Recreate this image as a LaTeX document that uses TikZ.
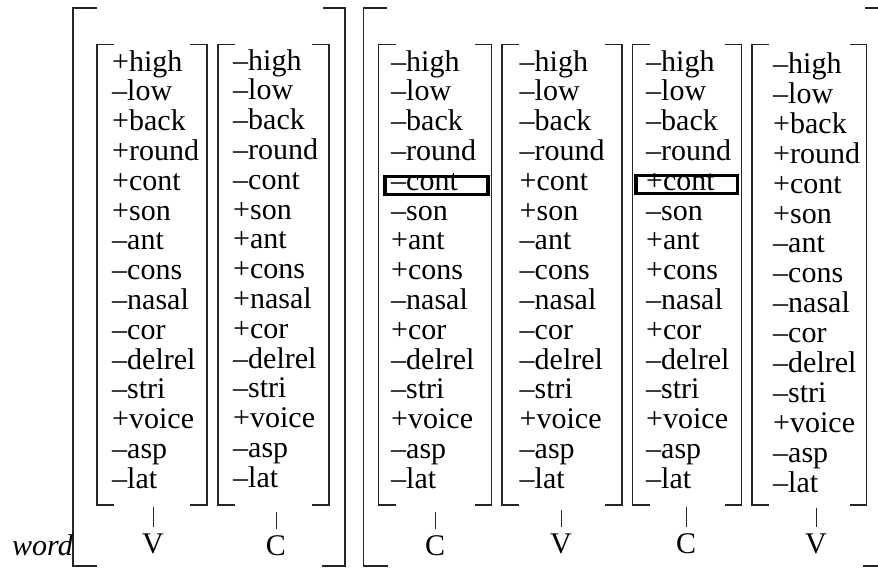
\documentclass[tikz,border=0pt]{standalone}
\usepackage{fontspec}
\setmainfont{Liberation Serif}
\begin{document}
\begin{tikzpicture}[x=1pt,y=-1pt,
  feat/.style={anchor=base west,inner sep=0pt,font=\fontsize{30}{31}\selectfont},
  lbl/.style={anchor=base,inner xsep=0pt,inner ysep=6pt,font=\fontsize{30}{31}\selectfont},
  brk/.style={draw=black!85,line width=1.3pt},
  hl/.style={draw=black,line width=3.5pt},
  tick/.style={draw=black!85,line width=0.9pt}]
\useasboundingbox (0,0) rectangle (878,570);
% outer brackets
\draw[brk] (97,8) -- (73,8) -- (73,566) -- (97,566);
\draw[brk] (323,8) -- (345,8) -- (345,566) -- (322,566);
\draw[brk] (386.5,8) -- (363.4,8) -- (363.4,566) -- (388,566);
\draw[brk] (865,8) -- (884,8) -- (884,566) -- (863,566);
% inner brackets
\foreach \l/\r in {97/207,218/329,378.6/491.7,502/622,632.5/741.5,752/866.5}{
  \draw[brk] ({\l+17},44.5) -- (\l,44.5) -- (\l,505) -- ({\l+17},505);
  \draw[brk] ({\r-17},44.5) -- (\r,44.5) -- (\r,505) -- ({\r-17},505);
}
% feature columns
\foreach \t [count=\i] in {+high,\textendash low,+back,+round,+cont,+son,\textendash ant,\textendash cons,\textendash nasal,\textendash cor,\textendash delrel,\textendash stri,+voice,\textendash asp,\textendash lat}
  \node[feat] (a\i) at (112,{71+(\i-1)*29.8}) {\t};
\foreach \t [count=\i] in {\textendash high,\textendash low,\textendash back,\textendash round,\textendash cont,+son,+ant,+cons,+nasal,+cor,\textendash delrel,\textendash stri,+voice,\textendash asp,\textendash lat}
  \node[feat] (b\i) at (233,{70+(\i-1)*29.8}) {\t};
\foreach \t [count=\i] in {\textendash high,\textendash low,\textendash back,\textendash round,\textendash cont,\textendash son,+ant,+cons,\textendash nasal,+cor,\textendash delrel,\textendash stri,+voice,\textendash asp,\textendash lat}
  \node[feat] (c\i) at (391,{71+(\i-1)*29.8}) {\t};
\foreach \t [count=\i] in {\textendash high,\textendash low,\textendash back,\textendash round,+cont,+son,\textendash ant,\textendash cons,\textendash nasal,\textendash cor,\textendash delrel,\textendash stri,+voice,\textendash asp,\textendash lat}
  \node[feat] (d\i) at (519.5,{71+(\i-1)*29.8}) {\t};
\foreach \t [count=\i] in {\textendash high,\textendash low,\textendash back,\textendash round,+cont,\textendash son,+ant,+cons,\textendash nasal,+cor,\textendash delrel,\textendash stri,+voice,\textendash asp,\textendash lat}
  \node[feat] (e\i) at (646,{71+(\i-1)*29.8}) {\t};
\foreach \t [count=\i] in {\textendash high,\textendash low,+back,+round,+cont,+son,\textendash ant,\textendash cons,\textendash nasal,\textendash cor,\textendash delrel,\textendash stri,+voice,\textendash asp,\textendash lat}
  \node[feat] (f\i) at (773,{73.5+(\i-1)*29.9}) {\t};
% highlighted boxes
\draw[hl] (384.8,176.5) rectangle (487.8,194.5);
\draw[hl] (635.8,175.5) rectangle (737.5,193.5);
% tiers
\coordinate (t1) at (153,507);
\coordinate (t2) at (276,512);
\coordinate (t3) at (435,512);
\coordinate (t4) at (561,510);
\coordinate (t5) at (686,507);
\coordinate (t6) at (816,508);
\node[lbl] (l1) at (153,553) {V};
\node[lbl] (l2) at (276,555) {C};
\node[lbl] (l3) at (435,555) {C};
\node[lbl] (l4) at (561,553) {V};
\node[lbl] (l5) at (686,553) {C};
\node[lbl] (l6) at (816,553) {V};
\foreach \k in {1,...,6} \draw[tick] (t\k) -- (l\k.north);
\node[anchor=base west,inner sep=0pt,font=\fontsize{30}{31}\selectfont\itshape] (word) at (12,555) {word};
\end{tikzpicture}
\end{document}
